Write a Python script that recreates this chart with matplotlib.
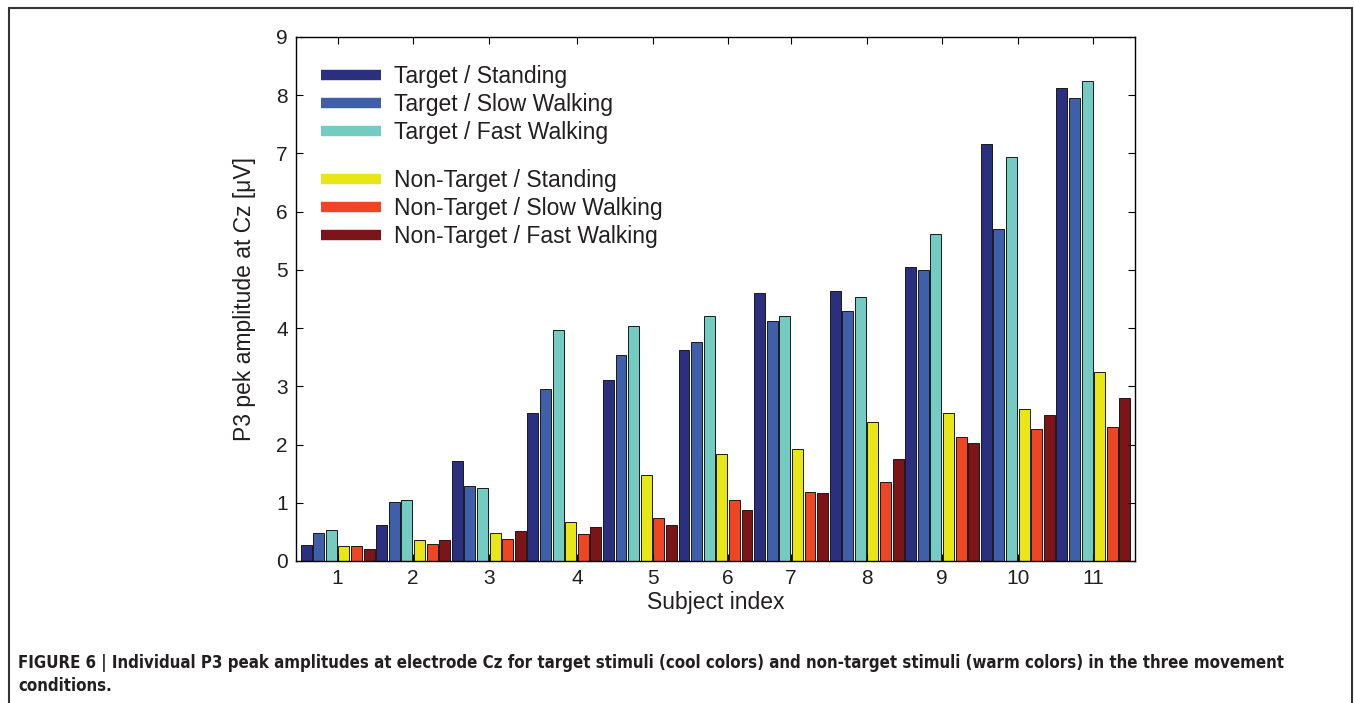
import numpy as np
import matplotlib.pyplot as plt
from matplotlib.lines import Line2D
from matplotlib.patches import Rectangle
from matplotlib import font_manager

# P3 peak amplitudes at Cz, one value per subject (1..11)
subjects = [1, 2, 3, 4, 5, 6, 7, 8, 9, 10, 11]
target_standing = [0.27, 0.61, 1.72, 2.54, 3.11, 3.63, 4.61, 4.64, 5.05, 7.17, 8.12]
target_slow = [0.48, 1.01, 1.28, 2.95, 3.54, 3.76, 4.12, 4.29, 4.99, 5.70, 7.96]
target_fast = [0.53, 1.05, 1.25, 3.97, 4.04, 4.21, 4.21, 4.53, 5.61, 6.94, 8.25]
nontarget_standing = [0.26, 0.36, 0.48, 0.67, 1.48, 1.84, 1.92, 2.38, 2.54, 2.61, 3.24]
nontarget_slow = [0.26, 0.30, 0.37, 0.46, 0.74, 1.04, 1.19, 1.36, 2.13, 2.27, 2.31]
nontarget_fast = [0.20, 0.36, 0.51, 0.58, 0.61, 0.88, 1.17, 1.75, 2.02, 2.50, 2.80]

series = [target_standing, target_slow, target_fast,
          nontarget_standing, nontarget_slow, nontarget_fast]
labels = ['Target / Standing', 'Target / Slow Walking', 'Target / Fast Walking',
          'Non-Target / Standing', 'Non-Target / Slow Walking', 'Non-Target / Fast Walking']
colors = ['#2a2f80', '#3f5fab', '#74cbc2', '#e8e614', '#ee4623', '#7d1518']

caption1 = ('FIGURE 6 | Individual P3 peak amplitudes at electrode Cz for target stimuli '
            '(cool colors) and non-target stimuli (warm colors) in the three movement')
caption2 = 'conditions.'

plt.rcParams['font.family'] = ['Liberation Sans', 'DejaVu Sans']
txt_color = '#231f20'

fig = plt.figure(figsize=(13.55, 7.03), dpi=100)
ax = fig.add_axes([296/1355, 1 - 561/703, (1135 - 296)/1355, (561 - 37)/703])

nser = len(series)
for k, vals in enumerate(series):
    x = np.arange(len(subjects)) * nser + k
    ax.bar(x, vals, width=0.87, color=colors[k], edgecolor='#1a1a1a', linewidth=0.7)

# subject labels sit near the group centres (4-6 are nudged right in the original)
label_shift = [0, 0, 0, 1, 1, 1, 0, 0, 0, 0, 0]
ticks = np.arange(len(subjects)) * nser + 2.5 + np.array(label_shift)
ax.set_xticks(ticks)
ax.set_xticklabels([str(s) for s in subjects])
ax.set_xlim(-0.8, len(subjects) * nser - 0.2)
ax.set_ylim(0, 9)
ax.set_yticks(range(10))

ax.tick_params(direction='in', length=5, width=0.8, top=True, right=True,
               labelsize=15, pad=6, labelcolor=txt_color)
for sp in ax.spines.values():
    sp.set_linewidth(1.0)

ax.set_xlabel('Subject index', fontsize=16.5, labelpad=2, color=txt_color)
ax.set_ylabel('P3 pek amplitude at Cz [\u03bcV]', fontsize=16.5, labelpad=14,
              color=txt_color)

handles = [Line2D([0], [0], color=c, lw=7.5, solid_capstyle='butt') for c in colors]
leg_kw = dict(loc='upper left', frameon=False, fontsize=16.5, handlelength=2.65,
              handletextpad=0.55, labelspacing=0.22, borderpad=0, borderaxespad=0,
              labelcolor=txt_color)
leg1 = ax.legend(handles[:3], labels[:3], bbox_to_anchor=(0.0295, 0.947), **leg_kw)
ax.add_artist(leg1)
ax.legend(handles[3:], labels[3:], bbox_to_anchor=(0.0295, 0.748), **leg_kw)

# outer frame and caption
fig.add_artist(Rectangle((9/1355, -0.05), (1352 - 9)/1355, 1.05 - 8/703,
                         transform=fig.transFigure, fill=False,
                         edgecolor='#333333', linewidth=1.5))

cap_prop = font_manager.FontProperties(family='DejaVu Sans', weight='bold',
                                       stretch='condensed')
if 'Condensed' not in font_manager.findfont(cap_prop):
    cap_prop = font_manager.FontProperties(family='Liberation Sans', weight='bold')

t1 = fig.text(18/1355, 1 - 663/703, caption1, fontproperties=cap_prop,
              fontsize=13, va='center', ha='left', color=txt_color)
t2 = fig.text(18/1355, 1 - 686/703, caption2, fontproperties=cap_prop,
              fontsize=13, va='center', ha='left', color=txt_color)

# squeeze the caption to the width it has in the original
fig.canvas.draw()
w = t1.get_window_extent().width
size = min(14.0, 13 * 1272 / w)
t1.set_fontsize(size)
t2.set_fontsize(size)

fig.savefig('out.png', dpi=100)
